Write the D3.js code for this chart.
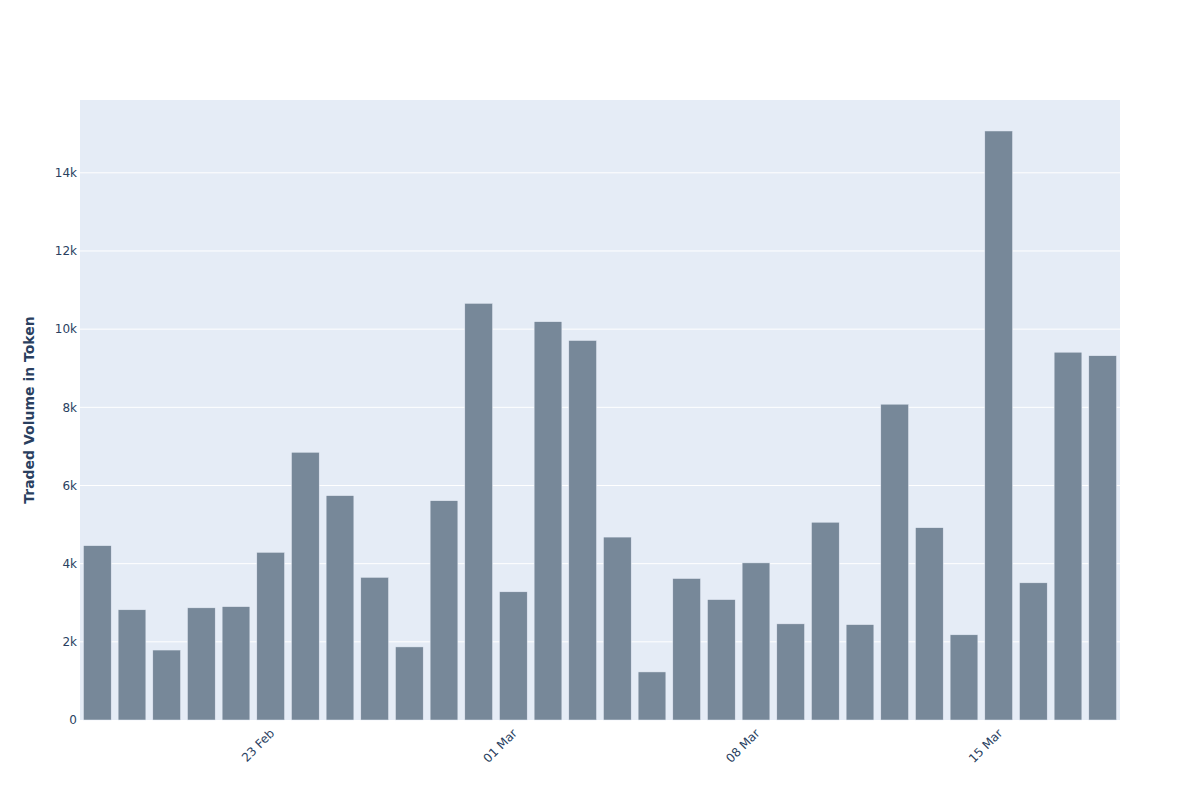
<!DOCTYPE html>
<html>
<head>
<meta charset="utf-8">
<script src="https://cdn.jsdelivr.net/npm/d3@7"></script>
<style>
  body { margin: 0; background: #fff; }
  svg { font-family: "DejaVu Sans", verdana, arial, sans-serif; }
</style>
</head>
<body>
<svg id="chart" width="1200" height="800"></svg>
<script>

  // daily traded volume, 18 Feb - 18 Mar 2020
  var days = [
    '2020-02-18', '2020-02-19', '2020-02-20', '2020-02-21', '2020-02-22',
    '2020-02-23', '2020-02-24', '2020-02-25', '2020-02-26', '2020-02-27',
    '2020-02-28', '2020-02-29', '2020-03-01', '2020-03-02', '2020-03-03',
    '2020-03-04', '2020-03-05', '2020-03-06', '2020-03-07', '2020-03-08',
    '2020-03-09', '2020-03-10', '2020-03-11', '2020-03-12', '2020-03-13',
    '2020-03-14', '2020-03-15', '2020-03-16', '2020-03-17', '2020-03-18'
  ];
  var volumes = [
    4460, 2820, 1790, 2870, 2900,
    4290, 6850, 5740, 3650, 1870,
    5610, 10660, 3280, 10190, 9710,
    4680, 1230, 3620, 3080, 4020,
    2460, 5060, 2440, 8080, 4920,
    2180, 15070, 3510, 9410, 9320
  ];
  var yTickValues = [0, 2000, 4000, 6000, 8000, 10000, 12000, 14000];
  var yTitle = 'Traded Volume in Token';

  (function() {

    var margin = {top: 100, right: 80, bottom: 80, left: 80},
        width = 1200 - margin.left - margin.right,
        height = 800 - margin.top - margin.bottom;

    var font = '"DejaVu Sans", verdana, arial, sans-serif';
    var parse = d3.utcParse('%Y-%m-%d');
    var dayMs = 864e5;

    var chartData = days.map(function(d, i) {
      return {date: parse(d), value: volumes[i]};
    });

    // half a day of padding on both sides, like a date bar axis
    var x = d3.scaleUtc()
      .domain([new Date(+chartData[0].date - dayMs / 2),
               new Date(+chartData[chartData.length - 1].date + dayMs / 2)])
      .range([0, width]);

    var y = d3.scaleLinear()
      .domain([0, d3.max(volumes) * 1.0526])
      .range([height, 0]);

    var svg = d3.select('#chart');

    var container = svg.append('g')
      .attr('transform', 'translate(' + margin.left + ',' + margin.top + ')');

    container.append('rect')
      .attr('width', width)
      .attr('height', height)
      .attr('fill', '#E5ECF6');

    // grid
    container.selectAll('.grid').data(yTickValues.slice(1)).enter().append('line')
      .attr('class', 'grid')
      .attr('x1', 0).attr('x2', width)
      .attr('y1', function(d) { return y(d); })
      .attr('y2', function(d) { return y(d); })
      .attr('stroke', '#fff')
      .attr('stroke-width', 1);

    var slot = x(new Date(+chartData[0].date + dayMs)) - x(chartData[0].date);
    var barWidth = slot * 0.8;

    container.selectAll('.bar').data(chartData).enter().append('rect')
      .attr('class', 'bar')
      .attr('x', function(d) { return x(d.date) - barWidth / 2; })
      .attr('y', function(d) { return y(d.value); })
      .attr('width', barWidth)
      .attr('height', function(d) { return height - y(d.value); })
      .attr('fill', '#778899')
      .attr('stroke', '#E5ECF6')
      .attr('stroke-width', 0.5);

    // y axis
    var yAxis = d3.axisLeft(y).tickValues(yTickValues).tickSize(0).tickPadding(3)
      .tickFormat(function(d) { return d === 0 ? '0' : (d / 1000) + 'k'; });

    container.append('g')
      .call(yAxis)
      .call(function(g) { g.select('.domain').remove(); })
      .selectAll('text')
      .attr('font-size', '12px')
      .attr('font-family', font)
      .attr('fill', '#2a3f5f');

    // x axis, weekly sunday ticks
    var xAxis = d3.axisBottom(x).ticks(d3.utcSunday.every(1)).tickSize(0)
      .tickFormat(d3.utcFormat('%d %b'));

    var xg = container.append('g')
      .attr('transform', 'translate(0,' + height + ')')
      .call(xAxis);
    xg.select('.domain').remove();
    xg.selectAll('text')
      .attr('font-size', '12px')
      .attr('font-family', font)
      .attr('fill', '#2a3f5f')
      .attr('text-anchor', 'end')
      .attr('y', 0)
      .attr('dy', 0)
      .attr('transform', 'translate(4,14) rotate(-45)');

    svg.append('text')
      .attr('transform', 'translate(34,' + (margin.top + height / 2) + ') rotate(-90)')
      .attr('text-anchor', 'middle')
      .attr('font-family', font)
      .attr('font-size', '14px')
      .attr('font-weight', 'bold')
      .attr('fill', '#2a3f5f')
      .text(yTitle);

  })();

</script>
</body>
</html>
